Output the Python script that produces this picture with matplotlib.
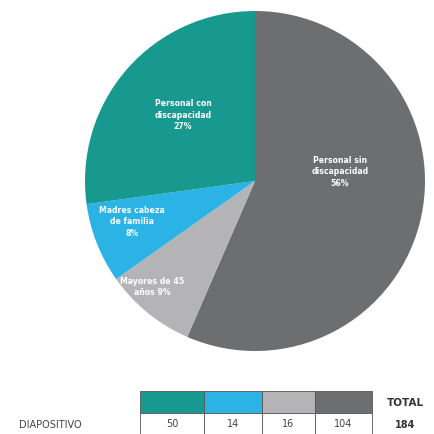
import matplotlib
matplotlib.use("Agg")
import matplotlib.pyplot as plt
from matplotlib.patches import Rectangle

categories = ["Personal sin\ndiscapacidad", "Mayores de 45\naños", "Madres cabeza\nde familia", "Personal con\ndiscapacidad"]
values = [104, 16, 14, 50]
pct_labels = [56, 9, 8, 27]
colors = ["#6d6e70", "#b4b4b6", "#2bb3e6", "#17998f"]
table_order = [3, 2, 1, 0]
row_label = "DIAPOSITIVO"
total_label = "TOTAL"

total = sum(values)

fig = plt.figure(figsize=(4.35, 4.35), dpi=100)
ax = fig.add_axes([0, 0, 1, 1])
H = 435

wedges, _ = ax.pie(values, colors=colors, startangle=90, counterclock=False,
                   center=(255, H - 182), radius=170, frame=True,
                   wedgeprops=dict(linewidth=0))
ax.set_xlim(0, 435)
ax.set_ylim(0, 435)
ax.set_aspect("equal")
ax.axis("off")

label_pos = [(340, 172), (152, 287), (132, 222), (183, 115)]
label_text = [
    f"Personal sin\ndiscapacidad\n{pct_labels[0]}%",
    f"Mayores de 45\naños {pct_labels[1]}%",
    f"Madres cabeza\nde familia\n{pct_labels[2]}%",
    f"Personal con\ndiscapacidad\n{pct_labels[3]}%",
]
for (x, y), t in zip(label_pos, label_text):
    ax.text(x, H - y, t, ha="center", va="center", color="white",
            fontsize=5.6, fontweight="bold", linespacing=1.35)

# table
col_edges = [140, 204, 262, 315, 372]
top_y, mid_y, bot_y = 392, 414, 435
for i, idx in enumerate(table_order):
    x0, x1 = col_edges[i], col_edges[i + 1]
    ax.add_patch(Rectangle((x0, H - mid_y), x1 - x0, mid_y - top_y,
                           facecolor=colors[idx], edgecolor="#555555", linewidth=0.6))
    ax.add_patch(Rectangle((x0, H - bot_y), x1 - x0, bot_y - mid_y,
                           facecolor="white", edgecolor="#555555", linewidth=0.6))
    ax.text((x0 + x1) / 2, H - (mid_y + bot_y) / 2, str(values[idx]),
            ha="center", va="center", fontsize=7, color="#444444")

ax.text(405, H - 403, total_label, ha="center", va="center", fontsize=7.5,
        fontweight="bold", color="#333333")
ax.text(405, H - 425, str(total), ha="center", va="center", fontsize=7,
        fontweight="bold", color="#333333")
ax.text(50, H - 425, row_label, ha="center", va="center", fontsize=7,
        color="#444444")

fig.savefig("out.png", dpi=100)
